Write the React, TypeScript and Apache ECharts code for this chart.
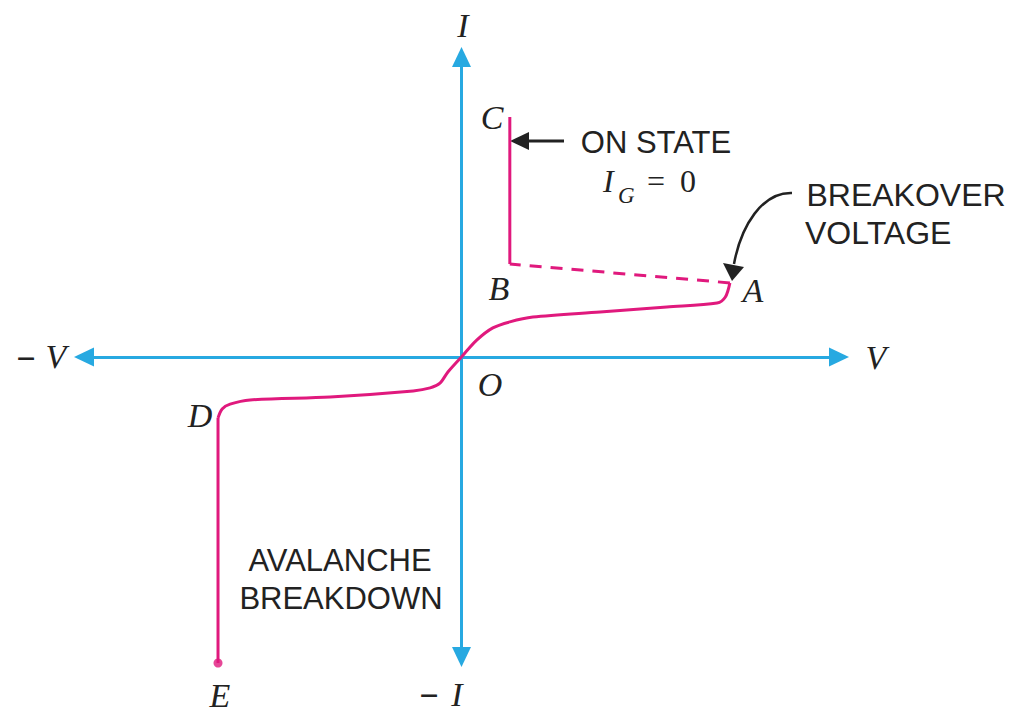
import React, { useEffect, useRef } from "react";
import * as echarts from "echarts";

// Forward blocking region O -> A
const V_FORWARD = [0, 0.41, 0.83, 1.28, 1.89, 3.67, 5.44, 6.77, 6.99, 7.11];
const I_FORWARD = [0, 0.57, 0.97, 1.17, 1.33, 1.5, 1.67, 1.8, 2.0, 2.47];
// Breakover jump A -> B (dashed)
const V_JUMP = [7.11, 1.28];
const I_JUMP = [2.47, 3.1];
// On state B -> C
const V_ON = [1.28, 1.28];
const I_ON = [3.1, 8.0];
// Reverse blocking region O -> D
const V_REVERSE = [0, -0.36, -0.57, -0.83, -1.28, -3.48, -5.6, -6.13, -6.34, -6.45];
const I_REVERSE = [0, -0.5, -0.87, -1.03, -1.13, -1.33, -1.43, -1.57, -1.73, -2.03];
// Avalanche breakdown D -> E
const V_AVALANCHE = [-6.45, -6.45];
const I_AVALANCHE = [-2.03, -10.2];

const AXIS_COLOR = "#27A9E1";
const CURVE_COLOR = "#E0197D";
const TEXT_COLOR = "#222222";
const SERIF = "Liberation Serif";
const SANS = "Liberation Sans";

const zip = (xs: number[], ys: number[]) => xs.map((x, i) => [x, ys[i]]);

export default function App() {
  const ref = useRef<HTMLDivElement>(null);
  useEffect(() => {
    if (!ref.current) return;
    const chart = echarts.init(ref.current, null, { renderer: "svg" });
    const letter = (text: string, x: number, y: number, size = 34) => ({
      type: "text",
      x,
      y,
      style: {
        text,
        fill: TEXT_COLOR,
        font: `italic ${size}px "${SERIF}"`,
        align: "center",
        verticalAlign: "middle",
      },
    });
    const plain = (text: string, x: number, y: number, size: number, family: string, align = "center", weight = "normal") => ({
      type: "text",
      x,
      y,
      style: {
        text,
        fill: TEXT_COLOR,
        font: `${weight} ${size}px "${family}"`,
        align,
        verticalAlign: "middle",
      },
    });
    const axisCommon = {
      type: "value",
      min: -10,
      max: 10,
      axisLine: {
        show: true,
        onZero: true,
        symbol: ["triangle", "triangle"],
        symbolSize: [19, 20],
        lineStyle: { color: AXIS_COLOR, width: 3 },
      },
      axisTick: { show: false },
      axisLabel: { show: false },
      splitLine: { show: false },
    };
    const lineSeries = (data: number[][], smooth: number | boolean, dashed = false) => ({
      type: "line",
      data,
      smooth,
      symbol: "none",
      clip: false,
      lineStyle: { color: CURVE_COLOR, width: 3, type: dashed ? [12, 9] : "solid" },
      z: 5,
    });
    chart.setOption({
      animation: false,
      backgroundColor: "#ffffff",
      grid: { left: 84, right: 173, top: 57, bottom: 56 },
      xAxis: axisCommon,
      yAxis: axisCommon,
      series: [
        lineSeries(zip(V_FORWARD, I_FORWARD), 0.3),
        lineSeries(zip(V_JUMP, I_JUMP), false, true),
        lineSeries(zip(V_ON, I_ON), false),
        lineSeries(zip(V_REVERSE, I_REVERSE), 0.3),
        lineSeries(zip(V_AVALANCHE, I_AVALANCHE), false),
        {
          type: "scatter",
          data: [[V_AVALANCHE[1], I_AVALANCHE[1]]],
          symbol: "circle",
          symbolSize: 9,
          clip: false,
          itemStyle: { color: CURVE_COLOR },
          z: 6,
        },
      ],
      graphic: [
        letter("I", 463, 25),
        plain("−", 429, 695, 34, SERIF, "center", "bold"),
        letter("I", 457, 694),
        plain("−", 26, 358, 34, SERIF, "center", "bold"),
        letter("V", 56, 356),
        letter("V", 876, 357),
        letter("C", 492, 117),
        letter("B", 499, 288),
        letter("A", 753, 290),
        letter("O", 490, 384),
        letter("D", 200, 415),
        letter("E", 220, 695),
        plain("ON STATE", 656, 142, 31, SANS),
        {
          type: "text",
          x: 603,
          y: 181,
          style: { text: "I", fill: TEXT_COLOR, font: `italic 32px "${SERIF}"`, align: "left", verticalAlign: "middle" },
        },
        {
          type: "text",
          x: 618,
          y: 195,
          style: { text: "G", fill: TEXT_COLOR, font: `italic 23px "${SERIF}"`, align: "left", verticalAlign: "middle" },
        },
        plain("=", 656, 181, 32, SERIF),
        plain("0", 688, 181, 32, SERIF),
        plain("BREAKOVER", 906, 195, 32, SANS),
        plain("VOLTAGE", 805, 233, 32, SANS, "left"),
        plain("AVALANCHE", 340, 560, 31, SANS),
        plain("BREAKDOWN", 341, 598, 31, SANS),
        {
          type: "line",
          shape: { x1: 564, y1: 141, x2: 524, y2: 141 },
          style: { stroke: TEXT_COLOR, lineWidth: 3 },
        },
        {
          type: "polygon",
          shape: { points: [[510, 141], [529, 132], [529, 150]] },
          style: { fill: TEXT_COLOR },
        },
        {
          type: "bezierCurve",
          shape: { x1: 792, y1: 193, cpx1: 762, cpy1: 192, cpx2: 741, cpy2: 226, x2: 734, y2: 264 },
          style: { stroke: TEXT_COLOR, lineWidth: 2.5, fill: "none" },
        },
        {
          type: "polygon",
          shape: { points: [[732, 281], [723, 263], [744, 267]] },
          style: { fill: TEXT_COLOR },
        },
      ],
    });
    return () => chart.dispose();
  }, []);
  return (
    <div
      ref={ref}
      style={{ position: "absolute", left: 0, top: 0, width: 1012, height: 713, background: "#fff" }}
    />
  );
}
